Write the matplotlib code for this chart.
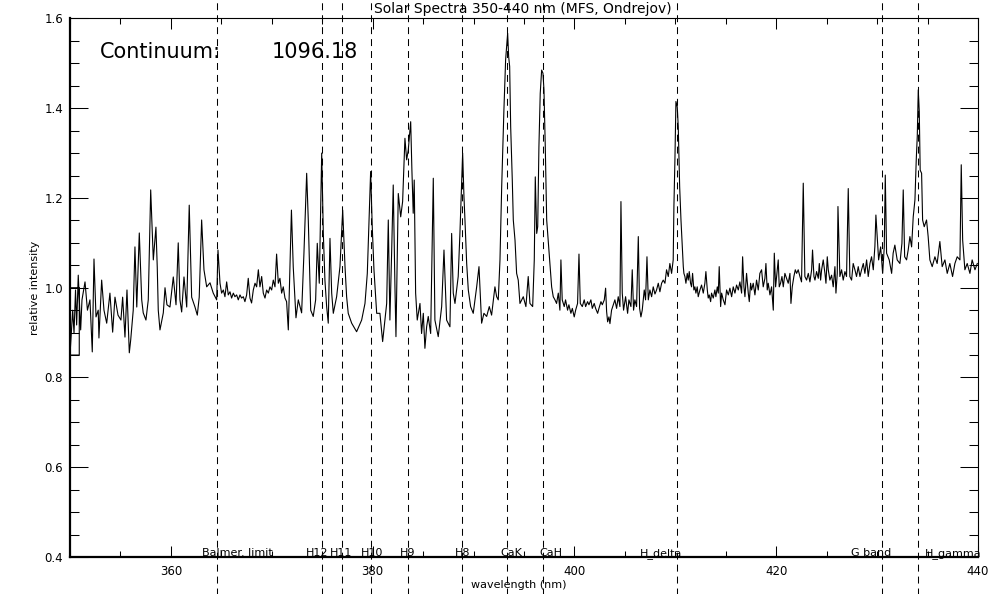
import matplotlib
matplotlib.use("Agg")
import matplotlib.pyplot as plt
from matplotlib.ticker import MultipleLocator

plt.rcParams['font.family'] = ['DejaVu Sans']
plt.rcParams['lines.scale_dashes'] = False

# spectrum, in pieces (wavelength nm, relative intensity)
wl_350 = [350.00, 350.92, 350.92, 350.00,
          350.27, 350.40, 350.55, 350.66, 350.82, 351.06, 351.19, 351.49, 351.73, 351.98,
          352.21, 352.38, 352.58, 352.80, 352.87, 353.14, 353.37, 353.64, 353.96, 354.23,
          354.46, 354.76, 355.05, 355.22, 355.45, 355.65, 355.88, 356.02, 356.27, 356.44,
          356.62, 356.87, 357.11, 357.26, 357.53, 357.76, 358.00, 358.26, 358.52, 358.65,
          358.75, 358.92, 359.25, 359.42, 359.61, 359.91, 360.24, 360.51, 360.73, 360.90,
          361.07, 361.30, 361.57, 361.82, 362.06, 362.39, 362.62, 362.81, 363.05, 363.28,
          363.55, 363.88, 364.20, 364.54, 364.67]
int_350 = [1.000, 1.000, 0.850, 0.850,
           0.950, 0.899, 0.995, 0.917, 1.028, 0.906, 0.973, 1.013, 0.950, 0.973,
           0.857, 1.064, 0.935, 0.950, 0.888, 1.017, 0.950, 0.921, 0.988, 0.901,
           0.979, 0.939, 0.928, 0.979, 0.890, 0.995, 0.855, 0.884, 0.950, 1.091,
           0.957, 1.122, 0.973, 0.944, 0.928, 0.973, 1.218, 1.062, 1.135, 1.046,
           0.950, 0.906, 0.944, 1.000, 0.962, 0.957, 1.024, 0.962, 1.100, 0.973,
           0.946, 1.024, 0.957, 1.184, 0.979, 0.957, 0.939, 0.979, 1.151, 1.040,
           1.002, 1.011, 0.988, 0.973, 1.084]

wl_365 = [364.87, 365.03, 365.20, 365.36, 365.53, 365.69, 365.86, 366.02, 366.19, 366.35,
          366.52, 366.68, 366.85, 367.01, 367.18, 367.34, 367.51, 367.67, 367.84, 368.00,
          368.17, 368.34, 368.50, 368.67, 368.83, 369.00, 369.16, 369.33, 369.49, 369.66,
          369.82, 369.99, 370.15, 370.32, 370.48, 370.65, 370.81, 370.98, 371.14, 371.31,
          371.47]
int_365 = [1.010, 0.988, 0.995, 0.980, 1.013, 0.984, 0.991, 0.977, 0.988, 0.980,
           0.984, 0.973, 0.984, 0.977, 0.980, 0.969, 0.984, 1.021, 0.977, 0.966,
           0.995, 1.010, 1.002, 1.040, 1.002, 1.025, 0.988, 0.977, 0.995, 0.988,
           1.002, 0.995, 1.017, 1.002, 1.075, 1.010, 1.021, 0.988, 1.002, 0.977,
           0.969]

wl_372 = [371.64, 371.95, 372.13, 372.40, 372.63, 372.96,
          373.19, 373.46, 373.62, 373.86, 374.11, 374.35, 374.51, 374.71, 374.95, 375.11,
          375.27, 375.44, 375.60, 375.77, 375.94, 376.10, 376.43, 376.76, 377.03, 377.26,
          377.42, 377.58, 377.92, 378.41, 378.91, 379.24, 379.47, 379.80, 379.96, 380.13,
          380.40, 380.72, 380.99, 381.22, 381.39, 381.55, 381.71, 381.88, 382.04, 382.21,
          382.31, 382.54, 382.78, 382.97, 383.20, 383.37, 383.53, 383.77, 383.89, 384.02,
          384.12, 384.26, 384.42, 384.69, 384.85, 385.02, 385.18, 385.35, 385.51, 385.75,
          385.88, 386.01, 386.17, 386.50, 386.84, 387.07, 387.33, 387.66, 387.83, 387.99,
          388.16, 388.48, 388.65, 388.92, 389.05, 389.15, 389.32, 389.48, 389.71, 389.97,
          390.31, 390.54, 390.80, 391.03, 391.30, 391.56, 391.79, 392.12, 392.29, 392.45,
          392.62, 392.79, 393.01, 393.18, 393.31, 393.38, 393.48, 393.58, 393.68, 393.84,
          393.94, 394.11, 394.27, 394.43, 394.60, 394.77, 394.93, 395.19, 395.42,
          395.59, 395.86, 396.02, 396.12, 396.26, 396.36, 396.48, 396.61, 396.75, 396.88,
          396.98, 397.11, 397.25, 397.40, 397.57, 397.74, 397.90]
int_372 = [0.906, 1.173, 1.046, 0.933, 0.973, 0.944,
           1.077, 1.255, 1.151, 0.950, 0.936, 0.973, 1.099, 1.010, 1.300, 1.121,
           1.017, 0.958, 0.921, 1.110, 0.988, 0.943, 0.980, 1.047, 1.173, 1.047,
           0.980, 0.943, 0.921, 0.902, 0.928, 0.965, 1.032, 1.259, 1.136, 1.040,
           0.943, 0.943, 0.880, 0.928, 0.965, 1.151, 0.928, 1.077, 1.229, 1.002,
           0.891, 1.210, 1.158, 1.192, 1.333, 1.285, 1.307, 1.370, 1.262, 1.166,
           1.240, 0.988, 0.928, 0.965, 0.898, 0.943, 0.865, 0.913, 0.936, 0.898,
           1.077, 1.244, 0.928, 0.891, 0.958, 1.084, 0.928, 0.913, 1.121, 0.988,
           0.965, 1.025, 1.121, 1.300, 1.203, 1.151, 1.054, 0.995, 0.958, 0.943,
           1.002, 1.047, 0.921, 0.943, 0.936, 0.958, 0.939, 1.002, 0.980, 0.973,
           1.062, 1.225, 1.396, 1.508, 1.545, 1.567, 1.515, 1.493, 1.359, 1.240,
           1.151, 1.106, 1.032, 1.017, 0.965, 0.973, 0.980, 0.958, 1.025,
           0.965, 0.958, 1.062, 1.247, 1.121, 1.136, 1.314, 1.433, 1.485, 1.478,
           1.441, 1.314, 1.151, 1.106, 1.054, 1.002, 0.980]

wl_398 = [398.07, 398.23, 398.40, 398.56, 398.66, 398.79, 398.99, 399.12, 399.32, 399.45,
          399.65, 399.79, 399.98, 400.12, 400.31, 400.45, 400.58, 400.78, 400.97, 401.11,
          401.30, 401.44, 401.63, 401.77, 401.96, 402.10, 402.30, 402.43, 402.63, 402.76,
          402.96, 403.09, 403.19, 403.29, 403.42, 403.52, 403.68, 403.85, 404.01, 404.18,
          404.34, 404.51, 404.61, 404.74, 404.87, 405.07, 405.27, 405.40, 405.60, 405.73,
          405.86, 405.99, 406.16, 406.33, 406.46, 406.59, 406.72, 406.92, 407.05, 407.19,
          407.32, 407.48, 407.65, 407.81, 407.98, 408.14, 408.31, 408.47, 408.64, 408.80,
          408.97, 409.13, 409.30, 409.46, 409.63, 409.79]
int_398 = [0.973, 0.965, 0.988, 0.950, 1.062, 0.973, 0.958, 0.973, 0.950, 0.962,
           0.943, 0.954, 0.935, 0.950, 0.965, 1.075, 0.965, 0.958, 0.973, 0.958,
           0.969, 0.962, 0.973, 0.954, 0.965, 0.954, 0.943, 0.954, 0.969, 0.962,
           0.973, 0.999, 0.947, 0.924, 0.935, 0.920, 0.950, 0.962, 0.973, 0.954,
           0.980, 0.958, 1.192, 0.988, 0.950, 0.980, 0.943, 0.973, 0.958, 1.040,
           0.950, 0.973, 0.958, 1.114, 0.954, 0.935, 0.950, 0.995, 0.973, 1.069,
           0.973, 0.995, 0.980, 1.002, 0.986, 0.995, 1.010, 0.991, 1.010, 1.017,
           1.010, 1.040, 1.025, 1.054, 1.032, 1.062]

wl_410 = [409.86, 409.96, 410.06, 410.19, 410.29, 410.43, 410.56,
          410.79, 410.85, 410.95, 411.05, 411.18, 411.28, 411.38, 411.51, 411.61, 411.71,
          411.84, 411.94, 412.04, 412.17, 412.27, 412.44, 412.60, 412.77, 412.93, 413.03,
          413.17, 413.26, 413.36, 413.50, 413.59, 413.76, 413.92, 414.02, 414.16, 414.26,
          414.35, 414.49, 414.59, 414.75, 414.92, 415.08, 415.25, 415.41, 415.58, 415.74,
          415.91, 416.07, 416.24, 416.40, 416.57, 416.67, 416.80, 416.90, 417.06, 417.23,
          417.33, 417.46, 417.56, 417.72, 417.89, 418.05, 418.22, 418.38, 418.55, 418.71,
          418.88, 418.98, 419.11, 419.21, 419.38, 419.54, 419.71, 419.81, 419.94, 420.04,
          420.20, 420.30, 420.43, 420.57, 420.70, 420.86, 421.03, 421.19, 421.36, 421.46,
          421.59, 421.75, 421.89, 422.02, 422.18]
int_410 = [1.181, 1.285, 1.415, 1.403, 1.359, 1.225, 1.151,
           1.047, 1.032, 1.025, 1.010, 1.032, 1.017, 1.036, 1.010, 1.002, 1.032,
           0.995, 1.002, 0.988, 1.002, 0.980, 0.995, 1.006, 0.988, 1.010, 1.036,
           0.995, 0.977, 0.984, 0.969, 0.988, 0.977, 0.995, 0.980, 1.002, 0.988,
           1.047, 0.958, 0.988, 0.973, 0.962, 0.995, 0.984, 0.999, 0.980, 1.002,
           0.988, 1.006, 0.995, 1.013, 0.988, 1.069, 1.002, 0.980, 1.032, 0.988,
           0.969, 1.010, 0.995, 1.010, 0.984, 1.017, 0.995, 1.032, 1.040, 1.002,
           1.021, 1.054, 0.995, 1.010, 0.984, 1.002, 0.950, 1.077, 1.002, 1.025,
           1.062, 1.002, 1.010, 1.025, 1.002, 1.032, 1.021, 1.010, 1.032, 0.965,
           1.002, 1.025, 1.040, 1.032, 1.040]

wl_422 = [422.35, 422.51, 422.68, 422.84, 423.01, 423.18, 423.34, 423.51, 423.60, 423.74,
          423.84, 424.00, 424.17, 424.27, 424.40, 424.50, 424.66, 424.83, 424.93, 425.06,
          425.16, 425.32, 425.49, 425.65, 425.82, 425.92, 426.05, 426.12, 426.31, 426.48,
          426.64, 426.81, 426.97, 427.14, 427.30, 427.47, 427.63, 427.80, 427.96, 428.13,
          428.30, 428.46, 428.63, 428.79, 428.96, 429.12, 429.29, 429.45, 429.62, 429.78]
int_422 = [1.025, 1.013, 1.233, 1.025, 1.017, 1.032, 1.013, 1.040, 1.084, 1.025,
           1.017, 1.036, 1.021, 1.054, 1.017, 1.040, 1.062, 1.032, 1.010, 1.069,
           1.040, 1.017, 1.028, 1.002, 1.047, 0.988, 1.032, 1.181, 1.025, 1.040,
           1.017, 1.036, 1.025, 1.221, 1.025, 1.017, 1.054, 1.040, 1.025, 1.047,
           1.025, 1.040, 1.054, 1.032, 1.062, 1.025, 1.054, 1.069, 1.040, 1.092]

wl_430 = [429.88, 430.01, 430.15, 430.35, 430.55, 430.71, 430.81, 430.94, 431.20, 431.44,
          431.59, 431.76, 431.99, 432.26, 432.46, 432.59, 432.73, 432.92, 433.08, 433.25,
          433.42, 433.58, 433.75, 433.88, 433.98, 434.08, 434.18, 434.27, 434.41, 434.51,
          434.67, 434.90, 435.06, 435.23, 435.46, 435.73, 435.95, 436.22, 436.45, 436.72,
          436.95, 437.21, 437.48, 437.71, 437.94, 438.21, 438.34, 438.48, 438.70, 438.93,
          439.20, 439.42, 439.70, 439.93]
int_430 = [1.162, 1.114, 1.062, 1.091, 1.032, 1.091, 1.251, 1.077, 1.062, 1.032,
           1.077, 1.095, 1.062, 1.054, 1.099, 1.218, 1.069, 1.062, 1.084, 1.114,
           1.091, 1.158, 1.196, 1.285, 1.337, 1.441, 1.392, 1.262, 1.255, 1.151,
           1.136, 1.151, 1.114, 1.062, 1.047, 1.069, 1.054, 1.103, 1.047, 1.062,
           1.032, 1.054, 1.025, 1.054, 1.069, 1.062, 1.274, 1.106, 1.040, 1.054,
           1.032, 1.062, 1.040, 1.054]

wl_parts = [wl_350, wl_365, wl_372, wl_398, wl_410, wl_422, wl_430]
int_parts = [int_350, int_365, int_372, int_398, int_410, int_422, int_430]
for a, b in zip(wl_parts, int_parts):
    assert len(a) == len(b), (a[0], len(a), len(b))
wavelength = [w for part in wl_parts for w in part]
intensity = [v for part in int_parts for v in part]

# marked lines
line_names = ['Balmer. limit', 'H12', 'H11', 'H10', 'H9', 'H8', 'CaK', 'CaH',
              'H_delta', 'G band', 'H_gamma']
line_wl = [364.6, 375.0, 377.0, 379.8, 383.5, 388.9, 393.35, 396.85,
           410.15, 430.5, 434.05]
label_wl = [366.6, 374.5, 376.9, 379.9, 383.45, 388.9, 393.7, 397.7,
            408.6, 429.4, 437.5]

continuum = 1096.18

fig = plt.figure(figsize=(9.94, 5.94), dpi=100)
ax = fig.add_axes([0.0704, 0.0623, 0.9135, 0.9066])

ax.plot(wavelength, intensity, color='black', lw=0.8)

ax.set_xlim(350, 440)
ax.set_ylim(0.4, 1.6)

# dashed marker lines run past the axes over the whole figure height
for wl in line_wl:
    ax.axvline(wl, ymin=-0.07, ymax=1.04, color='black', lw=0.75,
               linestyle=(0, (5, 3.6)), clip_on=False)

for name, x in zip(line_names, label_wl):
    ax.text(x, 0.4025, name, ha='center', va='baseline', fontsize=8)

ax.text(352.95, 1.512, 'Continuum:', fontsize=15, va='baseline')
ax.text(370.0, 1.512, f'{continuum:.2f}', fontsize=15, va='baseline')

ax.xaxis.set_major_locator(MultipleLocator(20))
ax.xaxis.set_minor_locator(MultipleLocator(5))
ax.yaxis.set_major_locator(MultipleLocator(0.2))
ax.yaxis.set_minor_locator(MultipleLocator(0.05))
ax.yaxis.set_major_formatter(lambda v, pos: f'{v:.1f}')

ax.tick_params(axis='x', which='major', direction='in', length=8, width=0.75,
               top=True, labelsize=8.5, pad=6)
ax.tick_params(axis='x', which='minor', direction='in', length=4, width=0.75, top=True)
ax.tick_params(axis='y', which='major', direction='in', length=13, width=0.75,
               right=True, labelsize=8.5, pad=5)
ax.tick_params(axis='y', which='minor', direction='in', length=6.5, width=0.75, right=True)

ax.spines['left'].set_linewidth(1.6)
ax.spines['bottom'].set_linewidth(1.6)
ax.spines['top'].set_linewidth(0.8)
ax.spines['right'].set_linewidth(0.8)

fig.text(0.5257, 1 - 13 / 594, 'Solar Spectra 350-440 nm (MFS, Ondrejov)',
         ha='center', va='baseline', fontsize=10)
fig.text(0.5216, 1 - 588 / 594, 'wavelength (nm)', ha='center', va='baseline', fontsize=8)
fig.text(0.0352, 0.515, 'relative intensity', rotation=90, ha='center', va='center',
         fontsize=8)

fig.savefig('out.png', dpi=100)
